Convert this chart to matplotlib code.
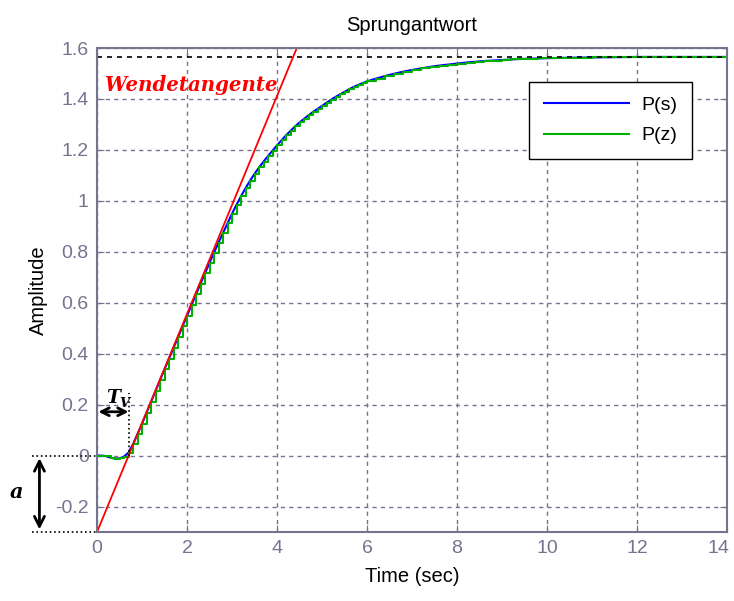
import numpy as np
import matplotlib.pyplot as plt
from matplotlib.transforms import ScaledTranslation

plt.rcParams['font.family'] = ['Liberation Sans', 'DejaVu Sans']

# step response (sample time 0.1 s up to 6 s, coarser after)
t = [0.0, 0.1, 0.2, 0.3, 0.4, 0.5, 0.6, 0.7, 0.8, 0.9,
     1.0, 1.1, 1.2, 1.3, 1.4, 1.5, 1.6, 1.7, 1.8, 1.9,
     2.0, 2.1, 2.2, 2.3, 2.4, 2.5, 2.6, 2.7, 2.8, 2.9,
     3.0, 3.1, 3.2, 3.3, 3.4, 3.5, 3.6, 3.7, 3.8, 3.9,
     4.0, 4.1, 4.2, 4.3, 4.4, 4.5, 4.6, 4.7, 4.8, 4.9,
     5.0, 5.1, 5.2, 5.3, 5.4, 5.5, 5.6, 5.7, 5.8, 5.9,
     6.0, 6.2, 6.4, 6.6, 6.8, 7.0, 7.2, 7.4, 7.6, 7.8,
     8.0, 8.2, 8.4, 8.6, 8.8, 9.0, 9.2, 9.4, 9.6, 9.8,
     10.0, 10.5, 11.0, 11.5, 12.0, 12.5, 13.0, 13.5, 14.0]
y = [0.000, 0.000, -0.002, -0.008, -0.012, -0.011, -0.004, 0.012, 0.045, 0.085,
     0.125, 0.168, 0.211, 0.254, 0.297, 0.339, 0.381, 0.423, 0.465, 0.507,
     0.549, 0.591, 0.633, 0.675, 0.716, 0.757, 0.797, 0.836, 0.874, 0.912,
     0.950, 0.985, 1.018, 1.050, 1.079, 1.106, 1.131, 1.154, 1.176, 1.197,
     1.218, 1.238, 1.257, 1.275, 1.292, 1.308, 1.322, 1.336, 1.349, 1.361,
     1.373, 1.385, 1.397, 1.408, 1.418, 1.428, 1.438, 1.447, 1.455, 1.462,
     1.469, 1.480, 1.490, 1.499, 1.507, 1.514, 1.520, 1.526, 1.531, 1.535,
     1.539, 1.543, 1.546, 1.549, 1.551, 1.553, 1.555, 1.557, 1.558, 1.559,
     1.560, 1.562, 1.563, 1.564, 1.565, 1.565, 1.565, 1.565, 1.565]
y_final = 1.565

# inflection tangent: y = -a + slope * t
a = 0.3
slope = 0.428
Tv = a / slope

xticks = [0, 2, 4, 6, 8, 10, 12, 14]
yticks = [-0.2, 0, 0.2, 0.4, 0.6, 0.8, 1, 1.2, 1.4, 1.6]

axcol = '#74748f'

fig = plt.figure(figsize=(7.34, 6.01), dpi=100)
ax = fig.add_axes([0.1322, 0.1148, 0.8583, 0.8053])

ax.plot(t, y, color='#0000ff', lw=1.5, label='P(s)')
ax.step(t, y, where='post', color='#00b000', lw=1.5, label='P(z)')
ax.axhline(y_final, color='black', lw=1.2, ls=(0, (3, 3)))
ax.axline((0, -a), slope=slope, color='#ff0000', lw=1.3)

ax.set_xlim(0, 14)
ax.set_ylim(-0.3, 1.6)
ax.set_xticks(xticks)
ax.set_yticks(yticks)
ax.set_xticklabels([f'{v:g}' for v in xticks])
ax.set_yticklabels([f'{v:g}' for v in yticks])
ax.grid(True, color=axcol, ls=(0, (3, 3)), lw=1)
ax.tick_params(direction='in', top=True, right=True, colors=axcol,
               labelsize=14, length=5, pad=6)
for s in ax.spines.values():
    s.set_color(axcol)
    s.set_linewidth(1.5)

# last x label sits at the figure edge, nudge it in a little
last = ax.get_xticklabels()[-1]
last.set_transform(last.get_transform() + ScaledTranslation(-6 / 72, 0, fig.dpi_scale_trans))

ax.set_title('Sprungantwort', fontsize=14.5, pad=12)
ax.set_xlabel('Time (sec)', fontsize=14.5, labelpad=7)
ax.set_ylabel('Amplitude', fontsize=14.5, labelpad=5)

leg = ax.legend(loc='upper right', bbox_to_anchor=(0.944, 0.93), fontsize=14,
                fancybox=False, framealpha=1, edgecolor='black',
                handlelength=4.4, handletextpad=0.6, borderpad=0.75,
                labelspacing=0.65, borderaxespad=0)
leg.get_frame().set_linewidth(1.0)

# annotations
ax.text(0.17, 1.43, 'Wendetangente', color='#ff0000', fontsize=14.2,
        family='DejaVu Serif', weight='bold', style='italic')

ax.plot([Tv, Tv], [0, 0.245], color='black', ls=':', lw=1.2)
ax.annotate('', xy=(0.03, 0.172), xytext=(Tv, 0.172),
            arrowprops=dict(arrowstyle='<->', lw=2, color='black',
                            mutation_scale=14, shrinkA=0, shrinkB=0))
ax.text(0.2, 0.205, 'T', fontsize=13.5, family='DejaVu Serif', weight='bold',
        style='italic')
ax.text(0.5, 0.19, 'V', fontsize=9.5, family='DejaVu Serif', weight='bold',
        style='italic')

ax.plot([-1.45, 0], [0, 0], color='black', ls=':', lw=1.2, clip_on=False)
ax.plot([-1.45, 0], [-a, -a], color='black', ls=':', lw=1.2, clip_on=False)
ax.annotate('', xy=(-1.28, -0.01), xytext=(-1.28, -a + 0.01),
            arrowprops=dict(arrowstyle='<->', lw=2, color='black',
                            mutation_scale=18, shrinkA=0, shrinkB=0),
            annotation_clip=False)
ax.text(-1.93, -0.165, 'a', fontsize=15, family='DejaVu Serif', weight='bold',
        style='italic', clip_on=False)

fig.savefig('out.png', dpi=100)
